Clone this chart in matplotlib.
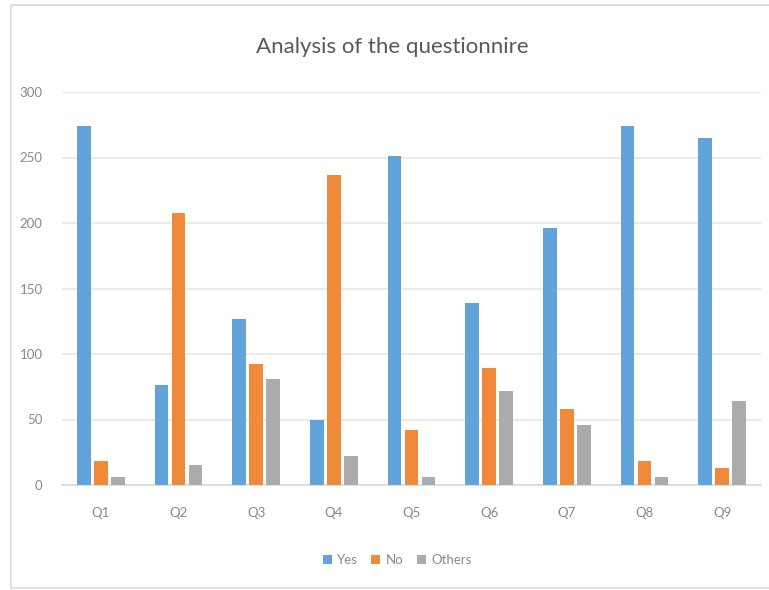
import numpy as np
import matplotlib
matplotlib.use('Agg')
import matplotlib.pyplot as plt
from matplotlib.patches import Rectangle

# --- Datos ---
questions = ['Q1', 'Q2', 'Q3', 'Q4', 'Q5', 'Q6', 'Q7', 'Q8', 'Q9']
yes = [274, 76, 127, 50, 251, 139, 196, 274, 265]
no = [18, 208, 92, 237, 42, 89, 58, 18, 13]
others = [6, 15, 81, 22, 6, 72, 46, 6, 64]
yticks = [0, 50, 100, 150, 200, 250, 300]

colors = ['#62A3DA', '#F08A3A', '#ABABAB']
labels = ['Yes', 'No', 'Others']
txt_gray = '#8a8a8a'

plt.rcParams['font.family'] = ['Lato', 'DejaVu Sans']

fig = plt.figure(figsize=(7.69, 5.90), dpi=100)
fig.patches.append(Rectangle((11 / 769, 2 / 590), 1.0, 583 / 590, transform=fig.transFigure,
                             facecolor='white', edgecolor='#d9d9d9', linewidth=1.2, zorder=-1))
ax = fig.add_axes([62 / 769, 1 - 485 / 590, 699 / 769, 393 / 590])
ax.set_facecolor('none')

x = np.arange(len(questions))
width = 0.174
pitch = 0.219
for i, (vals, c, lab) in enumerate(zip([yes, no, others], colors, labels)):
    ax.bar(x + (i - 1) * pitch, vals, width, color=c, label=lab, zorder=3)

ax.set_xlim(-0.5, len(questions) - 0.5)
ax.set_ylim(0, 300)
ax.set_yticks(yticks)
ax.set_xticks(x)
ax.set_xticklabels(questions)
ax.grid(axis='y', color='#e6e6e6', linewidth=1.2, zorder=0)
for s in ['top', 'right', 'left']:
    ax.spines[s].set_visible(False)
ax.spines['bottom'].set_color('#d9d9d9')
ax.spines['bottom'].set_linewidth(1.2)
ax.tick_params(axis='both', length=0, colors=txt_gray, labelsize=9.5)
ax.tick_params(axis='y', pad=14)
ax.tick_params(axis='x', pad=16)

fig.text(0.51, 1 - 47 / 590, 'Analysis of the questionnire', ha='center', va='center',
         fontsize=16, color='#595959')

fig.legend(loc='center', bbox_to_anchor=(397 / 769, 1 - 560 / 590), ncol=3, frameon=False,
           fontsize=9.5, labelcolor=txt_gray, handlelength=0.7, handleheight=0.7,
           handletextpad=0.4, columnspacing=1.0)

fig.savefig('out.png', dpi=100)
